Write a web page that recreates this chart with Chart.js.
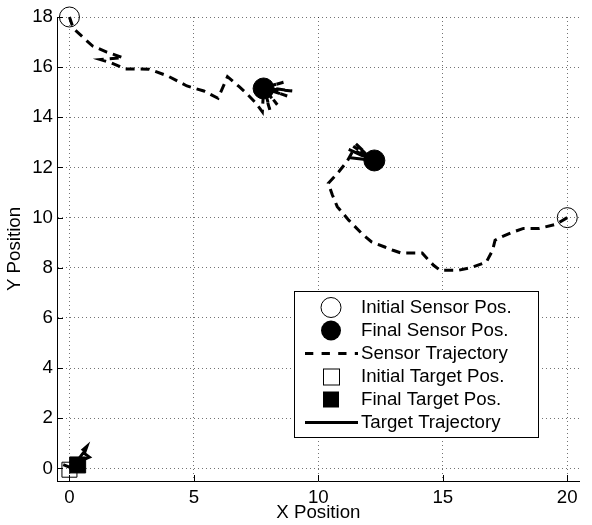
<!DOCTYPE html>
<html lang="en">
<head>
  <meta charset="UTF-8" />
  <title>Sensor and Target Positions</title>
  <script src="https://cdn.jsdelivr.net/npm/chart.js"></script>
  <style>
    body { margin: 0; background: #fff; }
    #wrap { width: 592px; height: 525px; }
  </style>
</head>
<body>
  <div id="wrap"><canvas id="trajChart" width="592" height="525"></canvas></div>

  <script>
    // axis ticks
    const xTicks = [0, 5, 10, 15, 20];
    const yTicks = [0, 2, 4, 6, 8, 10, 12, 14, 16, 18];

    // sensor 1: starts top-left, ends near (7.8, 15.2)
    const sensor1X = [0, 0.15, 0.92, 1.5, 2.15, 1.25, 1.65, 2.25, 3.2, 3.95, 4.72, 5.4, 5.97, 6.35, 6.82, 7.09, 7.48, 7.75, 7.8, 8.05, 7.85, 8.35, 7.85, 8.75, 7.85, 8.95, 7.9, 8.6, 7.8];
    const sensor1Y = [18, 17.55, 16.85, 16.6, 16.38, 16.3, 16.18, 15.93, 15.92, 15.65, 15.25, 15.05, 14.76, 15.62, 15.22, 14.98, 14.58, 14.22, 15.15, 14.3, 15.1, 14.5, 15.15, 14.85, 15.15, 15.05, 15.2, 15.4, 15.18];

    // sensor 2: starts at (20, 10), ends near (12.2, 12.3)
    const sensor2X = [20, 19.56, 18.87, 18.24, 17.72, 17.35, 17.1, 17.0, 16.75, 16.14, 15.62, 14.89, 14.63, 14.37, 14.17, 13.32, 13.0, 12.67, 12.14, 11.74, 11.22, 10.76, 10.56, 10.4, 10.83, 11.15, 11.42, 12.2, 11.5, 12.2, 11.4, 12.2, 11.22, 12.2, 11.2, 12.25];
    const sensor2Y = [10, 9.74, 9.57, 9.57, 9.39, 9.23, 9.1, 8.7, 8.23, 8.01, 7.9, 7.9, 8.1, 8.37, 8.59, 8.59, 8.7, 8.83, 9.03, 9.37, 9.9, 10.44, 10.91, 11.37, 11.84, 12.24, 12.71, 12.25, 12.95, 12.3, 12.85, 12.3, 12.72, 12.28, 12.4, 12.28];

    // target trajectory near the origin
    const targetX = [-0.25, 0.0, 0.25, 0.35, 0.5, 0.62, 0.55, 0.7, 0.6, 0.8, 0.45, 0.3, 0.55, 0.2];
    const targetY = [0.15, 0.05, 0.1, 0.35, 0.55, 0.7, 0.75, 0.88, 0.6, 0.45, 0.3, 0.1, 0.3, 0.0];

    // start / end markers
    const initSensorX = [0, 20];
    const initSensorY = [18, 10];
    const finalSensorX = [7.8, 12.25];
    const finalSensorY = [15.15, 12.28];
    const initTargetX = [0];
    const initTargetY = [-0.05];
    const finalTargetX = [0.33];
    const finalTargetY = [0.14];

    const legendLabels = ["Initial Sensor Pos.", "Final Sensor Pos.", "Sensor Trajectory", "Initial Target Pos.", "Final Target Pos.", "Target Trajectory"];

    const FONT = "'Liberation Sans', Arial, sans-serif";
    const FSIZE = 18.7;
    Chart.defaults.font.family = FONT;
    Chart.defaults.font.size = FSIZE;
    Chart.defaults.color = "#000";

    const pts = (xs, ys) => xs.map((x, i) => ({ x: x, y: ys[i] }));

    // matlab style ticks, pointing into the axes
    const innerTicks = {
      id: "innerTicks",
      afterDraw(chart) {
        const { ctx, chartArea } = chart;
        const xs = chart.scales.x, ys = chart.scales.y;
        ctx.save();
        ctx.strokeStyle = "#000";
        ctx.lineWidth = 1;
        ctx.beginPath();
        xTicks.forEach(v => {
          const px = Math.round(xs.getPixelForValue(v)) + 0.5;
          ctx.moveTo(px, chartArea.bottom);
          ctx.lineTo(px, chartArea.bottom - 6);
        });
        yTicks.forEach(v => {
          const py = Math.round(ys.getPixelForValue(v)) + 0.5;
          ctx.moveTo(chartArea.left, py);
          ctx.lineTo(chartArea.left + 6, py);
        });
        ctx.stroke();
        ctx.restore();
      }
    };

    // boxed legend inside the plot, lower right
    const boxLegend = {
      id: "boxLegend",
      afterDraw(chart) {
        const ctx = chart.ctx;
        const bx = 294.5, by = 291.5, bw = 244, bh = 146;
        const mx = 331, lx0 = 305, lx1 = 358, tx = 361;
        ctx.save();
        ctx.fillStyle = "#fff";
        ctx.fillRect(bx, by, bw, bh);
        ctx.strokeStyle = "#000";
        ctx.lineWidth = 1;
        ctx.strokeRect(bx, by, bw, bh);
        ctx.font = FSIZE + "px " + FONT;
        ctx.textBaseline = "middle";
        legendLabels.forEach((label, i) => {
          const y = by + 16 + i * 23;
          ctx.fillStyle = "#000";
          ctx.strokeStyle = "#000";
          ctx.setLineDash([]);
          if (i === 0 || i === 1) {
            ctx.lineWidth = 1;
            ctx.beginPath();
            ctx.arc(mx, y, 10, 0, Math.PI * 2);
            if (i === 1) ctx.fill(); else ctx.stroke();
          } else if (i === 3) {
            ctx.lineWidth = 1;
            ctx.strokeRect(mx - 7.5, y - 7.5, 16, 16);
          } else if (i === 4) {
            ctx.fillRect(mx - 8, y - 8, 16, 16);
          } else {
            ctx.lineWidth = 3;
            if (i === 2) ctx.setLineDash([8.3, 8.3]);
            ctx.beginPath();
            ctx.moveTo(lx0, y);
            ctx.lineTo(lx1, y);
            ctx.stroke();
            ctx.setLineDash([]);
          }
          ctx.fillText(label, tx, y);
        });
        ctx.restore();
      }
    };

    const trajLine = {
      showLine: true,
      borderColor: "#000",
      borderWidth: 3,
      pointRadius: 0,
      pointHoverRadius: 0,
      fill: false,
      clip: false
    };

    new Chart(document.getElementById("trajChart"), {
      type: "scatter",
      data: {
        datasets: [
          Object.assign({ label: "Sensor Trajectory", data: pts(sensor1X, sensor1Y), borderDash: [9, 6] }, trajLine),
          Object.assign({ label: "Sensor Trajectory", data: pts(sensor2X, sensor2Y), borderDash: [9, 6] }, trajLine),
          Object.assign({ label: "Target Trajectory", data: pts(targetX, targetY), borderWidth: 3.5 }, trajLine),
          {
            label: "Initial Sensor Pos.",
            data: pts(initSensorX, initSensorY),
            pointStyle: "circle",
            pointRadius: 10,
            borderWidth: 1,
            borderColor: "#000",
            backgroundColor: "rgba(0,0,0,0)",
            clip: false
          },
          {
            label: "Final Sensor Pos.",
            data: pts(finalSensorX, finalSensorY),
            pointStyle: "circle",
            pointRadius: 10.5,
            borderWidth: 1,
            borderColor: "#000",
            backgroundColor: "#000",
            clip: false
          },
          {
            label: "Initial Target Pos.",
            data: pts(initTargetX, initTargetY),
            pointStyle: "rect",
            pointRadius: 10.6,
            borderWidth: 1,
            borderColor: "#000",
            backgroundColor: "rgba(0,0,0,0)",
            clip: false
          },
          {
            label: "Final Target Pos.",
            data: pts(finalTargetX, finalTargetY),
            pointStyle: "rect",
            pointRadius: 11.3,
            borderWidth: 1,
            borderColor: "#000",
            backgroundColor: "#000",
            clip: false
          }
        ]
      },
      options: {
        responsive: false,
        animation: false,
        events: [],
        layout: { padding: { top: 17, right: 2, left: 0, bottom: 0 } },
        plugins: {
          legend: { display: false },
          tooltip: { enabled: false }
        },
        scales: {
          x: {
            type: "linear",
            min: -0.5,
            max: 20.5,
            afterBuildTicks: s => { s.ticks = xTicks.map(v => ({ value: v })); },
            afterFit: s => { s.height = 44; },
            ticks: { padding: 6, maxRotation: 0 },
            grid: { color: "rgba(0,0,0,0.55)", lineWidth: 1, drawTicks: false },
            border: { display: true, color: "#000", width: 1, dash: [1, 3] },
            title: { display: true, text: "X Position", padding: { top: 0, bottom: 1 } }
          },
          y: {
            type: "linear",
            min: -0.5,
            max: 18,
            afterBuildTicks: s => { s.ticks = yTicks.map(v => ({ value: v })); },
            afterFit: s => { s.width = 57; },
            ticks: { padding: 4 },
            grid: { color: "rgba(0,0,0,0.55)", lineWidth: 1, drawTicks: false },
            border: { display: true, color: "#000", width: 1, dash: [1, 3] },
            title: { display: true, text: "Y Position", padding: { top: 4, bottom: 0 } }
          }
        }
      },
      plugins: [innerTicks, boxLegend]
    });
  </script>
</body>
</html>
